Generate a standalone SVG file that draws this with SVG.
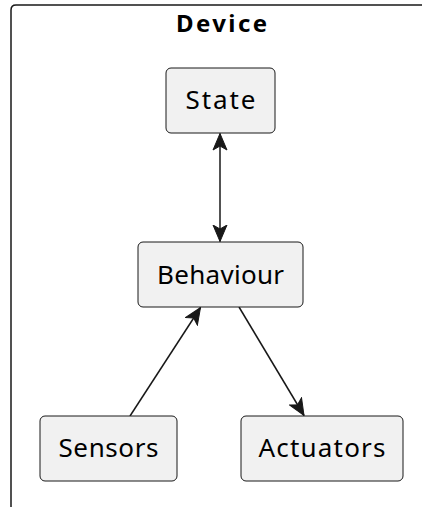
<svg xmlns="http://www.w3.org/2000/svg" width="422" height="507" viewBox="0 0 422 507">
  <style>
    .frame { fill: none; stroke: #181818; stroke-width: 1.5; }
    .node rect { fill: #F1F1F1; stroke: #181818; stroke-width: 1; }
    .node text { font-family: "Noto Sans", "DejaVu Sans", sans-serif; font-size: 26px; fill: #000000; text-anchor: middle; }
    .title { font-family: "Noto Sans", "DejaVu Sans", sans-serif; font-size: 24px; font-weight: bold; fill: #000000; text-anchor: middle; }
    .edge { stroke: #181818; stroke-width: 1.5; fill: none; }
    .head { fill: #181818; stroke: #181818; stroke-width: 1; stroke-linejoin: miter; }
  </style>
  <defs>
    <marker id="arrow" viewBox="0 0 18 16" refX="17" refY="8" markerWidth="18" markerHeight="16" markerUnits="userSpaceOnUse" orient="auto-start-reverse">
      <path class="head" d="M0.5,1 L17,8 L0.5,15 L4.5,8 Z"/>
    </marker>
  </defs>

  <!-- package frame, continuing past the right and bottom edges -->
  <g id="device">
    <path class="frame" d="M11,507 L11,10 Q11,5 16,5 L422,5"/>
    <text class="title" x="221.5" y="32" textLength="91" lengthAdjust="spacing">Device</text>
  </g>

  <!-- connectors -->
  <g id="edges">
    <line class="edge" x1="220" y1="133.5" x2="220" y2="241.5" marker-start="url(#arrow)" marker-end="url(#arrow)"/>
    <line class="edge" x1="130" y1="416" x2="200.5" y2="307.5" marker-end="url(#arrow)"/>
    <line class="edge" x1="239" y1="307" x2="304" y2="415.5" marker-end="url(#arrow)"/>
  </g>

  <g id="state" class="node">
    <rect x="166" y="68" width="109" height="65" rx="5"/>
    <text x="220.5" y="109" textLength="70" lengthAdjust="spacing">State</text>
  </g>

  <g id="behaviour" class="node">
    <rect x="138" y="242" width="165" height="65" rx="5"/>
    <text x="220.5" y="284" textLength="127" lengthAdjust="spacing">Behaviour</text>
  </g>

  <g id="sensors" class="node">
    <rect x="40" y="416" width="137" height="65" rx="5"/>
    <text x="108.5" y="457" textLength="100" lengthAdjust="spacing">Sensors</text>
  </g>

  <g id="actuators" class="node">
    <rect x="241" y="416" width="162" height="65" rx="5"/>
    <text x="322" y="457" textLength="127" lengthAdjust="spacing">Actuators</text>
  </g>
</svg>
